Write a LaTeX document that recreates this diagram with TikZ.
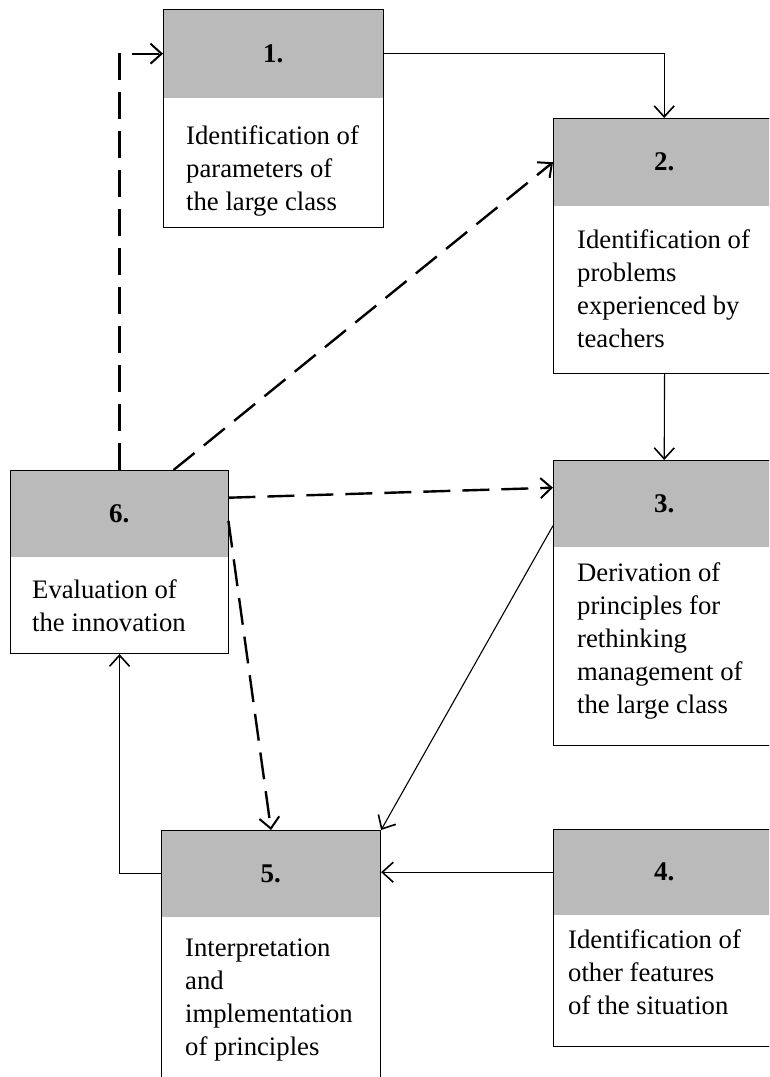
\documentclass[tikz,border=0pt]{standalone}
\usepackage{fontspec}
\setmainfont{Liberation Serif}
\usetikzlibrary{arrows.meta,calc}
\begin{document}
\begin{tikzpicture}[x=1pt,y=-1pt,
  box/.style={draw, line width=1.1pt, inner sep=0pt, anchor=north west},
  hdr/.style={fill=black!27, inner sep=0pt, anchor=north west},
  num/.style={font=\fontsize{27}{30}\selectfont\bfseries, inner sep=0pt},
  txt/.style={font=\fontsize{26.7}{33}\selectfont, align=left, anchor=north west, inner sep=0pt},
  link/.style={line width=1.1pt, -{Straight Barb[length=11pt,width=20pt,line width=1.6pt]}},
  dlink/.style={line width=2.4pt, dash pattern=on 27pt off 12pt, -{Straight Barb[length=11pt,width=20pt,line width=2pt]}}
]
\clip (0,0) rectangle (769,1077);
% headers
\node[hdr, minimum width=220pt, minimum height=89pt] (h1) at (163,9) {};
\node[hdr, minimum width=222pt, minimum height=88pt] (h2) at (553,118) {};
\node[hdr, minimum width=222pt, minimum height=87pt] (h3) at (553,460) {};
\node[hdr, minimum width=222pt, minimum height=86pt] (h4) at (553,829) {};
\node[hdr, minimum width=219pt, minimum height=87pt] (h5) at (161,830) {};
\node[hdr, minimum width=218pt, minimum height=87pt] (h6) at (10,470) {};
% boxes
\node[box, minimum width=220pt, minimum height=218pt] (b1) at (163,9) {};
\node[box, minimum width=222pt, minimum height=255pt] (b2) at (553,118) {};
\node[box, minimum width=222pt, minimum height=285pt] (b3) at (553,460) {};
\node[box, minimum width=222pt, minimum height=217pt] (b4) at (553,829) {};
\node[box, minimum width=219pt, minimum height=262pt] (b5) at (161,830) {};
\node[box, minimum width=218pt, minimum height=183pt] (b6) at (10,470) {};
% numbers
\node[num] (n1) at (h1) {1.};
\node[num] (n2) at (h2) {2.};
\node[num] (n3) at (h3) {3.};
\node[num] (n4) at (h4) {4.};
\node[num] (n5) at (h5) {5.};
\node[num] (n6) at (h6) {6.};
% texts
\node[txt] (t1) at (186,125) {Identification of\\parameters of\\the large class};
\node[txt] (t2) at (577,229) {Identification of\\problems\\experienced by\\teachers};
\node[txt] (t3) at (577,562) {Derivation of\\principles for\\rethinking\\management of\\the large class};
\node[txt] (t4) at (568,929) {Identification of\\other features\\of the situation};
\node[txt] (t5) at (185,939) {Interpretation\\and\\implementation\\of principles};
\node[txt] (t6) at (32,579) {Evaluation of\\the innovation};
% solid connectors
\draw[link] (h1.east) -| (h2.north);
\draw[link] (b2.south) -- (h3.north);
\draw[link] ([yshift=-22pt]h3.west) -- (b5.north east);
\draw[link] (h4.west) -- (h4.west -| b5.east);
\draw[link] (h5.west) -| (b6.south);
% dashed connectors
\draw[dlink] (b6.north) |- (h1.west);
\draw[dlink] ([xshift=54pt]b6.north) -- (h2.west);
\draw[dlink] ([yshift=16pt]h6.east) -- ([yshift=16pt]h3.west);
\draw[dlink] ([yshift=-7pt]h6.east) -- (b5.north);
\end{tikzpicture}
\end{document}
